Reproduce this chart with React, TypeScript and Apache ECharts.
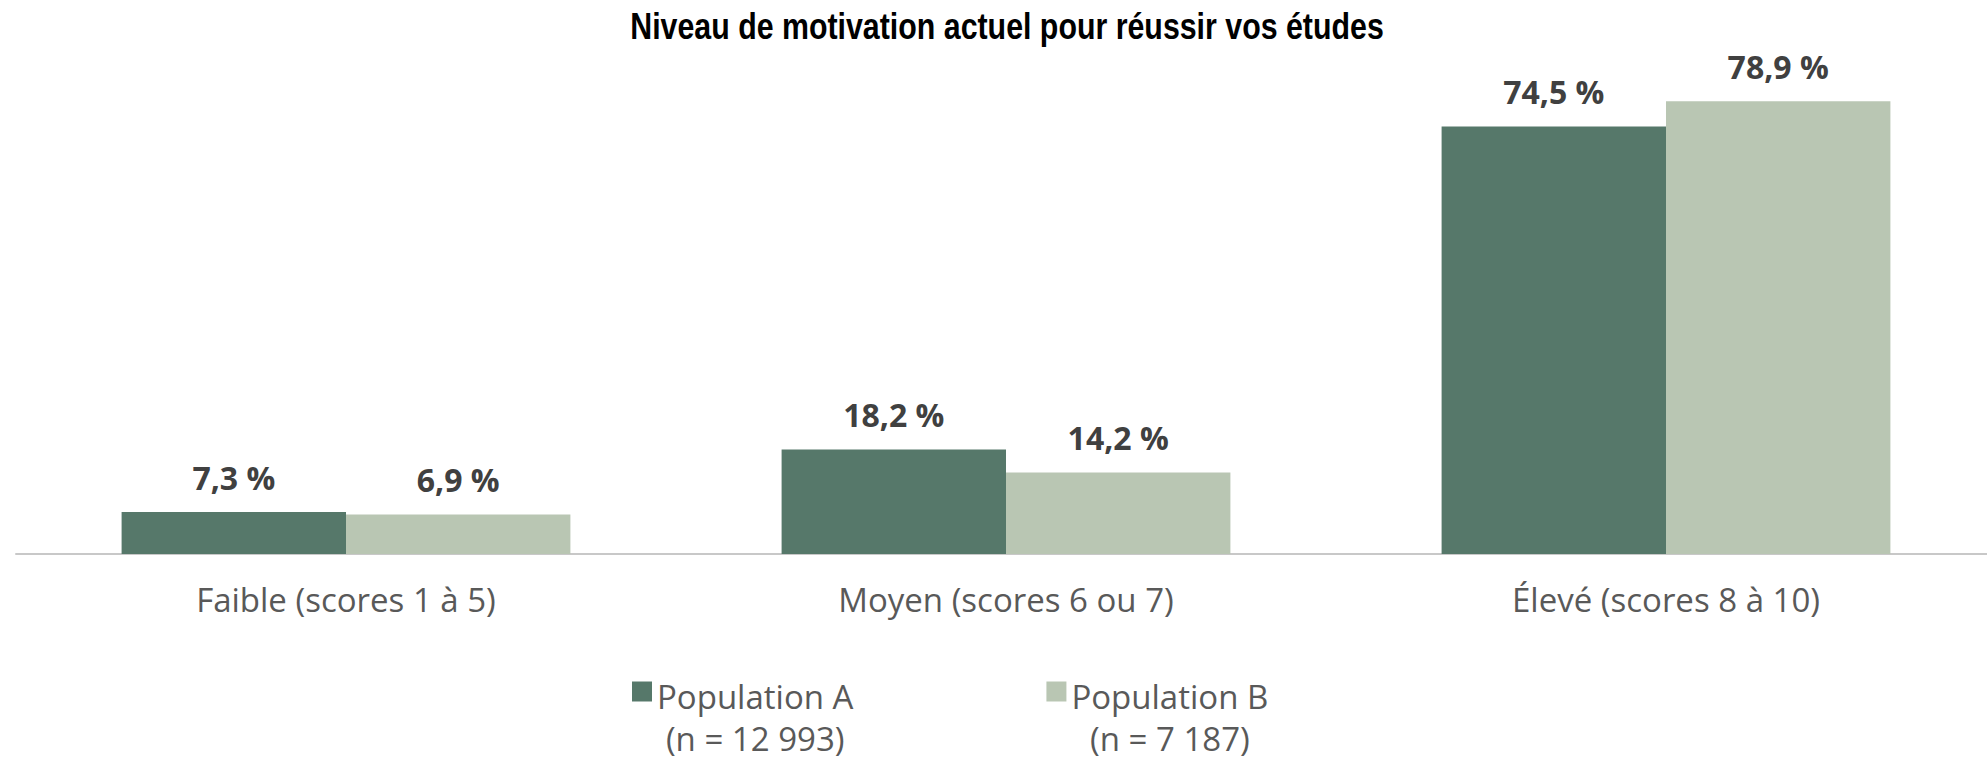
import React, { useEffect, useRef } from "react";
import * as echarts from "echarts";

const categories = ["Faible (scores 1 à 5)", "Moyen (scores 6 ou 7)", "Élevé (scores 8 à 10)"];
const seriesNames = ["Population A", "Population B"];
const seriesCounts = ["(n = 12 993)", "(n = 7 187)"];
const popA = [7.3, 18.2, 74.5];
const popB = [6.9, 14.2, 78.9];
const colors = ["#56786A", "#B9C6B3"];
const title = "Niveau de motivation actuel pour réussir vos études";

export default function App() {
  const ref = useRef<HTMLDivElement>(null);
  useEffect(() => {
    document.body.style.margin = "0";
    document.body.style.overflow = "hidden";
    const chart = echarts.init(ref.current!, null, { renderer: "svg" });
    const fmt = (p: any) => String(p.value.toFixed(1)).replace(".", ",") + " %";
    const label = {
      show: true,
      position: "top",
      distance: 19,
      formatter: fmt,
      fontFamily: "Open Sans",
      fontWeight: "bold",
      fontSize: 32,
      color: "#404040",
    };
    const LH = 45;
    chart.setOption({
      animation: false,
      graphic: [
        {
          type: "text",
          x: 1007,
          y: 26,
          scaleX: 0.82,
          style: {
            text: title,
            textAlign: "center",
            textVerticalAlign: "middle",
            fontFamily: "Liberation Sans",
            fontWeight: "bold",
            fontSize: 37,
            fill: "#000000",
          },
        },
      ],
      grid: { left: 16, width: 1980, top: 95, height: 459, containLabel: false },
      xAxis: {
        type: "category",
        data: categories,
        axisTick: { show: false },
        axisLine: { lineStyle: { color: "#C8C8C8", width: 2 } },
        axisLabel: {
          margin: 29,
          fontFamily: "Open Sans",
          fontSize: 33,
          color: "#595959",
          interval: 0,
        },
      },
      yAxis: { type: "value", min: 0, max: 80, show: false, splitLine: { show: false } },
      legend: {
        left: 627,
        top: 631,
        itemWidth: 20,
        itemHeight: 20,
        itemGap: 193,
        icon: "rect",
        data: seriesNames,
        formatter: (name: string) => {
          const i = seriesNames.indexOf(name);
          return "{a|" + name + "}\n{b|" + seriesCounts[i] + "}";
        },
        textStyle: {
          padding: [38, 0, 0, 0],
          fontFamily: "Open Sans",
          fontSize: 33,
          color: "#595959",
          lineHeight: LH,
          rich: {
            a: { align: "center", fontFamily: "Open Sans", fontSize: 33, color: "#595959", lineHeight: LH },
            b: {
              align: "center",
              fontFamily: "Open Sans",
              fontSize: 33,
              color: "#595959",
              lineHeight: 28,
              padding: [10, 0, 0, 0],
            },
          },
        },
      },
      series: [
        {
          name: seriesNames[0],
          type: "bar",
          data: popA,
          barWidth: "34%",
          barGap: "0%",
          itemStyle: { color: colors[0] },
          label,
        },
        {
          name: seriesNames[1],
          type: "bar",
          data: popB,
          barWidth: "34%",
          barGap: "0%",
          itemStyle: { color: colors[1] },
          label,
        },
      ],
    });
    return () => chart.dispose();
  }, []);
  return <div ref={ref} style={{ width: 2000, height: 762 }} />;
}
